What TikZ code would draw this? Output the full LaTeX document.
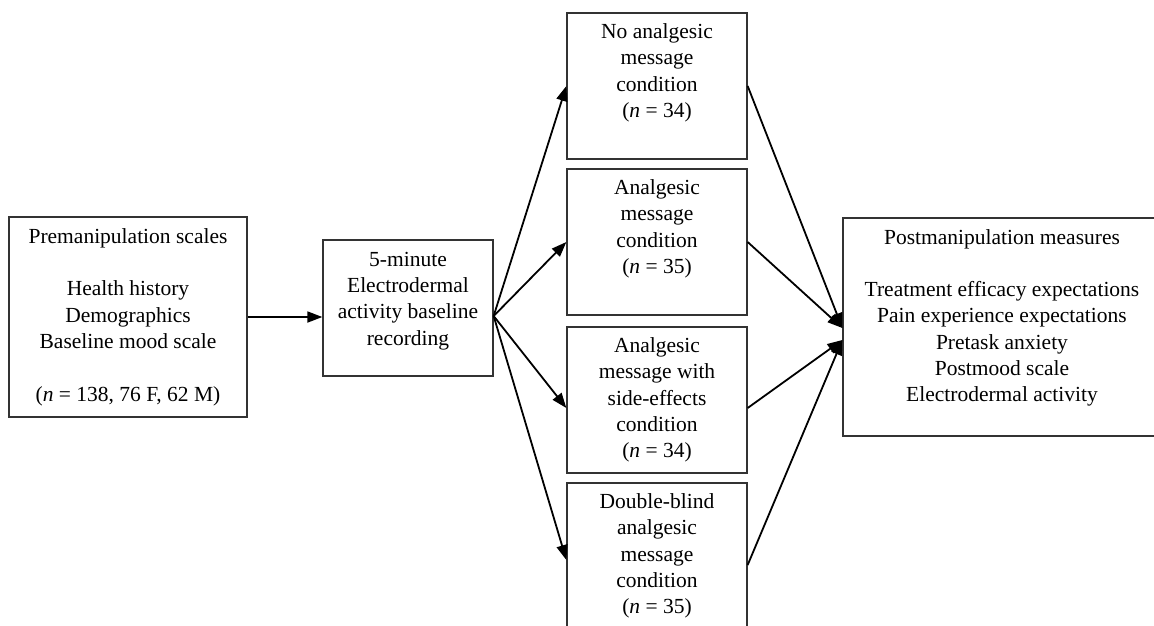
\documentclass[tikz,border=0pt]{standalone}
\usepackage{fontspec}
\setmainfont{Liberation Serif}
\usetikzlibrary{arrows.meta}
\newcommand\boxfont{\fontsize{21.5}{26.3}\selectfont}
\newcommand\extradepth[1]{\rule[-#1]{0pt}{#1}}
\tikzset{
  box/.style={draw=black!80, line width=1.3pt, align=center, inner sep=0pt, font=\boxfont},
  cond/.style={box, minimum width=180pt, minimum height=146pt},
  arr/.style={-{Triangle[length=15pt,width=11pt]}, line width=1.8pt, black},
}
\begin{document}
\begin{tikzpicture}[x=1pt,y=-1pt]
\useasboundingbox (0,0) rectangle (1154,625);
\clip (0,0) rectangle (1154,625);
\fill[white] (0,0) rectangle (1154,625);

\node[box, minimum width=238pt, minimum height=200pt] (pre) at (128,317)
  {Premanipulation scales\\[26.3pt]Health history\\Demographics\\Baseline mood scale\\[26.3pt](\textit{n} = 138, 76 F, 62 M)};

\node[box, minimum width=170pt, minimum height=136pt] (base) at (408,308)
  {5-minute\\Electrodermal\\activity baseline\\recording\extradepth{19pt}};

\node[cond] (A) at (657,86)
  {No analgesic\\message\\condition\\(\textit{n} = 34)\extradepth{31pt}};
\node[cond] (B) at (657,242)
  {Analgesic\\message\\condition\\(\textit{n} = 35)\extradepth{31pt}};
\node[cond] (C) at (657,400)
  {Analgesic\\message with\\side-effects\\condition\\(\textit{n} = 34)};
\node[cond] (D) at (657,556)
  {Double-blind\\analgesic\\message\\condition\\(\textit{n} = 35)};

\node[box, minimum width=318pt, minimum height=218pt] (post) at (1002,327)
  {Postmanipulation measures\\[26.3pt]Treatment efficacy expectations\\Pain experience expectations\\Pretask anxiety\\Postmood scale\\Electrodermal activity\extradepth{23pt}};

\draw[arr] (pre.east) -- ([yshift=-9pt]base.west);

\coordinate (fan) at ([yshift=-8pt]base.east);
\draw[arr] (fan) -- (A.west);
\draw[arr] (fan) -- (B.west);
\draw[arr] (fan) -- ([yshift=-8pt]C.west);
\draw[arr] (fan) -- ([yshift=-4pt]D.west);

\coordinate (in1) at ([yshift=-1pt]post.west);
\coordinate (in2) at ([yshift=-13pt]post.west);
\draw[arr] (A.east) -- (in1);
\draw[arr] (B.east) -- (in1);
\draw[arr] ([yshift=-8pt]C.east) -- (in2);
\draw[arr] ([yshift=-9pt]D.east) -- (in2);
\end{tikzpicture}
\end{document}
